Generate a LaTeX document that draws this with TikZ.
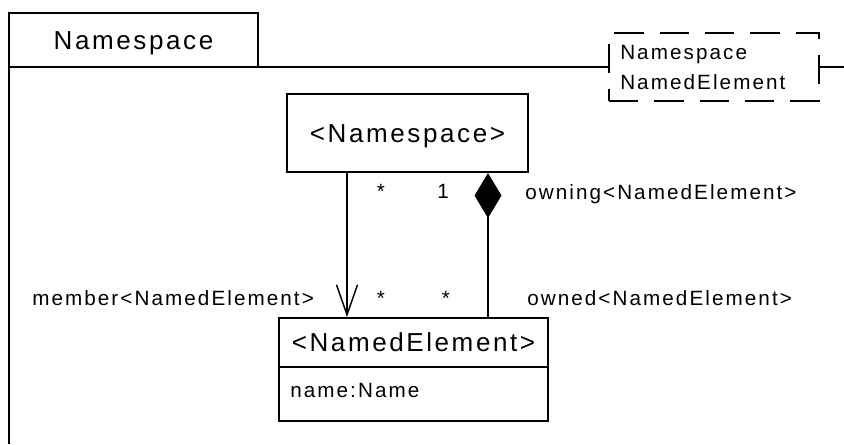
\documentclass[tikz,border=0pt]{standalone}
\usepackage{fontspec}
\setmainfont{Liberation Sans}[LetterSpace=10]
\usetikzlibrary{arrows.meta}
\begin{document}
\begin{tikzpicture}[x=0.75pt,y=-0.75pt,
  big/.style={font=\fontsize{19.5}{23}\selectfont},
  lbl/.style={font=\fontsize{15.5}{22.5}\selectfont,inner sep=0pt},
  box/.style={draw,line width=1.5pt,inner sep=0pt,fill=white},
  conn/.style={line width=1.1pt}]
\useasboundingbox (0,0) rectangle (844,444);
% package frame
\coordinate (frameTR) at (844,67);
\coordinate (frameBL) at (9,444);
\draw[line width=1.5pt] (frameTR) -| (frameBL);
\node[box,big,minimum width=186.75pt,minimum height=40.5pt,text height=14pt,text depth=0pt] (tab) at (133.5,40) {Namespace};
% template parameters
\node[draw,dash pattern=on 22pt off 12pt,line width=1.1pt,fill=white,minimum width=157.5pt,minimum height=51pt,inner sep=0pt] (tparams) at (714,67) {};
\node[lbl,anchor=base west] (tp1) at (620,59) {Namespace};
\node[lbl,anchor=base west] (tp2) at (620,89) {NamedElement};
% classes
\node[box,big,minimum width=180.75pt,minimum height=58.5pt,text height=14pt,text depth=0pt] (ns) at (407.5,133) {<Namespace>};
\node[box,big,minimum width=201.75pt,minimum height=36.75pt,text height=14pt,text depth=0pt] (ne) at (413.5,342.5) {<NamedElement>};
\node[box,minimum width=201.75pt,minimum height=40.5pt] (neattr) at (413.5,394) {};
\node[lbl,anchor=base west] (attr) at (290,397) {name:Name};
% connectors
\coordinate (mx) at (347,0);
\coordinate (ox) at (488,0);
\draw[conn,-{Straight Barb[length=22.5pt,width=15.75pt]}] (ns.south -| mx) -- (ne.north -| mx);
\draw[conn,{Diamond[length=33.75pt,width=20.25pt]}-] (ns.south -| ox) -- (ne.north -| ox);
% labels
\node[lbl,anchor=base] (m1) at (381,198) {*};
\node[lbl,anchor=base] (m2) at (443,198) {1};
\node[lbl,anchor=base] (m3) at (381,305) {*};
\node[lbl,anchor=base] (m4) at (446,305) {*};
\node[lbl,anchor=base west] (lown) at (525,199) {owning<NamedElement>};
\node[lbl,anchor=base west] (lmem) at (32,305) {member<NamedElement>};
\node[lbl,anchor=base west] (lowned) at (527,305) {owned<NamedElement>};
\end{tikzpicture}
\end{document}
